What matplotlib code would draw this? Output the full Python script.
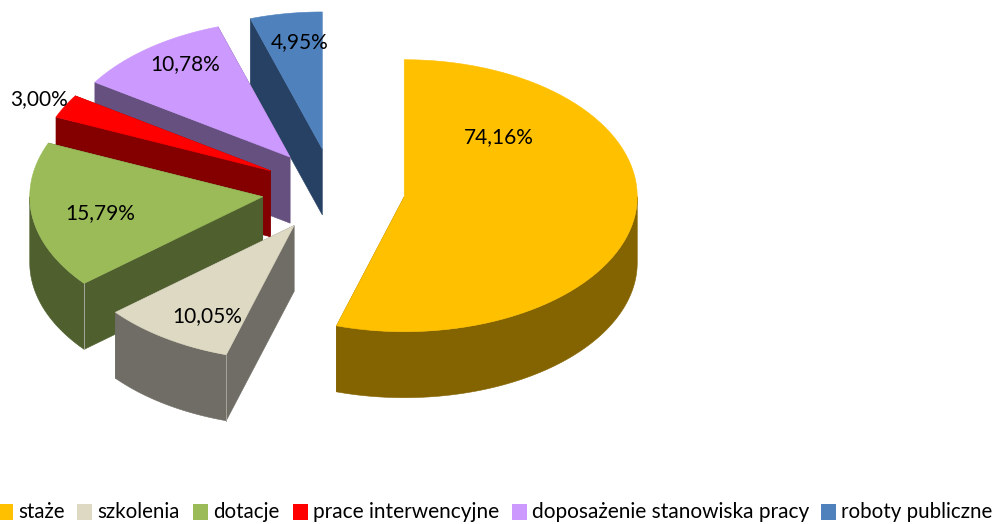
import numpy as np
import matplotlib
matplotlib.use("Agg")
import matplotlib.pyplot as plt
from matplotlib.patches import Polygon, Rectangle

# ── data ──────────────────────────────────────────────────
categories = ["staże", "szkolenia", "dotacje", "prace interwencyjne",
              "doposażenie stanowiska pracy", "roboty publiczne"]
value_labels = ["74,16%", "10,05%", "15,79%", "3,00%", "10,78%", "4,95%"]
# slice sizes as drawn (they differ from the printed labels)
slice_shares = [54.7, 9.2, 17.5, 2.8, 10.8, 5.0]

top_colors = ["#FFC000", "#DDD9C3", "#9BBB59", "#FF0000", "#CC99FF", "#4F81BD"]
side_colors = ["#846400", "#6F6D65", "#4F602E", "#840000", "#65507F", "#264163"]

# ── layout (pixels) ───────────────────────────────────────
CX, CY = 333.5, 190.5
RX = 233
RY_BACK, RY_FRONT = 137, 135
EXPLODE = 0.307
DEPTH = 66
label_pos = [(499, 137), (207, 316), (100, 213), (39, 99), (185, 64), (300, 42)]
legend_x = [-2, 77, 193, 293, 512, 821]
legend_size = [14.8, 14.8, 14.8, 15, 15, 14.8]

fig = plt.figure(figsize=(9.96, 5.24), dpi=100)
ax = fig.add_axes([0, 0, 1, 1])
ax.set_xlim(0, 996)
ax.set_ylim(524, 0)
ax.axis("off")

plt.rcParams["font.family"] = ["Lato", "DejaVu Sans"]


def arc(apex, t0, t1, dy=0):
    t = np.radians(np.linspace(t0, t1, 80))
    c = np.cos(t)
    ry = np.where(c > 0, RY_BACK, RY_FRONT)
    return np.column_stack([apex[0] + RX * np.sin(t), apex[1] - ry * c + dy])


def add_poly(pts, color, z):
    ax.add_patch(Polygon(pts, closed=True, facecolor=color, edgecolor=color, lw=0.4, zorder=z))


edges = np.concatenate([[0], np.cumsum(slice_shares)]) * 3.6

# ── slices, back to front ─────────────────────────────────
for i in range(len(slice_shares) - 1, -1, -1):
    t0, t1 = edges[i], edges[i + 1]
    mid = np.radians((t0 + t1) / 2)
    apex = (CX + EXPLODE * RX * np.sin(mid), CY - EXPLODE * RY_BACK * np.cos(mid))
    z = 10 + (len(slice_shares) - i) * 3
    top = arc(apex, t0, t1)
    low = arc(apex, t0, t1, DEPTH)

    # cut faces (vertical ones have no width, so skip them)
    for p, q in [(top[0], low[0]), (top[-1], low[-1])]:
        if abs(p[0] - apex[0]) > 1:
            add_poly([apex, p, q, (apex[0], apex[1] + DEPTH)], side_colors[i], z)
    # outer wall, front half of the ellipse only
    w0, w1 = max(t0, 90), min(t1, 270)
    if w1 > w0:
        add_poly(np.vstack([arc(apex, w0, w1), arc(apex, w0, w1, DEPTH)[::-1]]), side_colors[i], z + 1)
    # top face
    add_poly(np.vstack([[apex], top]), top_colors[i], z + 2)
    # thin light corner line on the near slices
    if i in (1, 2):
        ax.plot([top[0][0], low[0][0]], [top[0][1], low[0][1]], color="#A5A59A", lw=0.7, zorder=z + 1)

for (x, y), txt in zip(label_pos, value_labels):
    ax.text(x, y, txt, ha="center", va="center", fontsize=15, color="black", zorder=50)

# ── legend ────────────────────────────────────────────────
for x, name, color, size in zip(legend_x, categories, top_colors, legend_size):
    ax.add_patch(Rectangle((x, 503.5), 14.5, 16, facecolor=color, edgecolor="none", zorder=50))
    ax.text(x + 20, 512, name, ha="left", va="center", fontsize=size, color="black", zorder=50)

fig.savefig("out.png", dpi=100)
